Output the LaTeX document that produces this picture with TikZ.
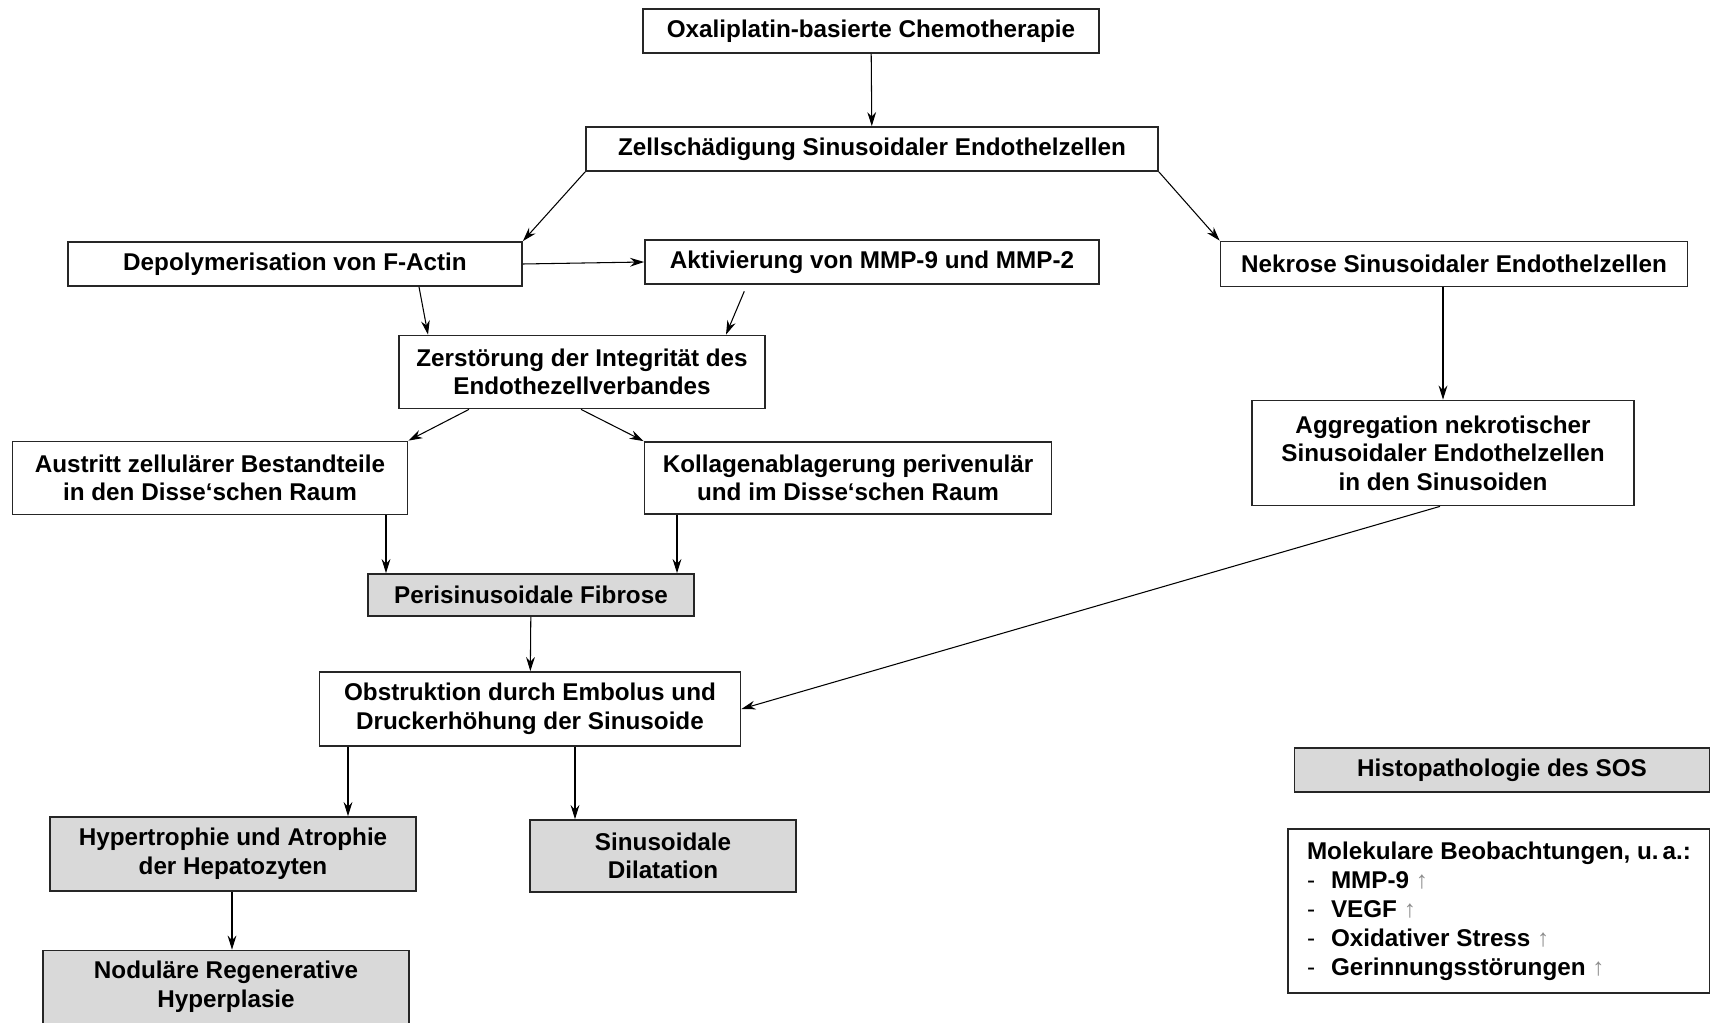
\documentclass[tikz,border=0pt]{standalone}
\usepackage{fontspec}
\setmainfont{Liberation Sans}
\usetikzlibrary{arrows.meta}
\definecolor{boxgrey}{RGB}{217,217,217}
\definecolor{upgrey}{RGB}{140,140,140}
\newcommand{\molitem}[1]{\makebox[0.48cm][l]{\mdseries -}#1 {\mdseries\color{upgrey}↑}}
\tikzset{boxdim/.style 2 args={minimum width=#1*0.02cm, minimum height=#2*0.02cm}}

\begin{document}
\begin{tikzpicture}[x=0.02cm,y=-0.02cm,
  main node/.style={rectangle, draw=black!85, line width=1pt, fill=white, align=center,
    inner sep=0pt, font=\bfseries\fontsize{13.8}{16.3}\selectfont},
  grey node/.style={main node, fill=boxgrey},
  link/.style={-{Stealth[length=8pt,width=5pt]}, line width=0.6pt}]

  \useasboundingbox (0,0) rectangle (1710,1023);

  % upper part
  \node[main node, boxdim={456}{44}] (oxa) at (871,31) {Oxaliplatin-basierte Chemotherapie};
  \node[main node, boxdim={572}{44}] (zell) at (872,149) {Zellschädigung Sinusoidaler Endothelzellen};
  \node[main node, boxdim={454}{44}] (depol) at (295,264) {Depolymerisation von F-Actin};
  \node[main node, boxdim={454}{44}] (aktiv) at (872,262) {Aktivierung von MMP-9 und MMP-2};
  \node[main node, boxdim={467}{45}] (nekrose) at (1454,264) {Nekrose Sinusoidaler Endothelzellen};
  \node[main node, boxdim={366}{73}] (zerst) at (582,372) {Zerstörung der Integrität des\\Endothezellverbandes};
  \node[main node, boxdim={395}{73}] (austritt) at (210,478) {Austritt zellulärer Bestandteile\\in den Disse‘schen Raum};
  \node[main node, boxdim={407}{72}] (kollagen) at (848,478) {Kollagenablagerung perivenulär\\und im Disse‘schen Raum};
  \node[main node, boxdim={382}{105}] (aggreg) at (1443,453) {Aggregation nekrotischer\\Sinusoidaler Endothelzellen\\in den Sinusoiden};

  % lower part
  \node[grey node, boxdim={326}{42}] (fibrose) at (531,595) {Perisinusoidale Fibrose};
  \node[main node, boxdim={421}{74}] (obstr) at (530,709) {Obstruktion durch Embolus und\\Druckerhöhung der Sinusoide};
  \node[grey node, boxdim={366}{74}] (hypert) at (233,854) {Hypertrophie und Atrophie\\der Hepatozyten};
  \node[grey node, boxdim={266}{72}] (dilat) at (663,856) {Sinusoidale\\Dilatation};
  \node[grey node, boxdim={366}{73}] (nodul) at (226,987) {Noduläre Regenerative\\Hyperplasie};

  % legend
  \node[grey node, boxdim={415}{44}] (histo) at (1502,770) {Histopathologie des SOS};
  \node[main node, boxdim={422}{164}, align=left, font=\bfseries\fontsize{13.8}{16.5}\selectfont] (molek) at (1499,911)
    {Molekulare Beobachtungen, u.\,a.:\\\molitem{MMP-9}\\\molitem{VEGF}\\\molitem{Oxidativer Stress}\\\molitem{Gerinnungsstörungen}};

  \path[link]
    (oxa) edge (zell)
    (zell.south west) edge (depol.north east)
    (zell.south east) edge (nekrose.north west)
    (depol.east) edge (aktiv.west)
    (419,0 |- depol.south) edge (428,0 |- zerst.north)
    (747,0 |- aktiv.south) edge[shorten <=4pt] (726,0 |- zerst.north)
    (469,0 |- zerst.south) edge (austritt.north east)
    (581,0 |- zerst.south) edge (kollagen.north west)
    (1443,0 |- nekrose.south) edge (aggreg.north)
    (386,0 |- austritt.south) edge (386,0 |- fibrose.north)
    (677,0 |- kollagen.south) edge (677,0 |- fibrose.north)
    (fibrose) edge (obstr)
    (1440,0 |- aggreg.south) edge (obstr.east)
    (348,0 |- obstr.south) edge (348,0 |- hypert.north)
    (575,0 |- obstr.south) edge (575,0 |- dilat.north)
    (232,0 |- hypert.south) edge (232,0 |- nodul.north);
\end{tikzpicture}
\end{document}
